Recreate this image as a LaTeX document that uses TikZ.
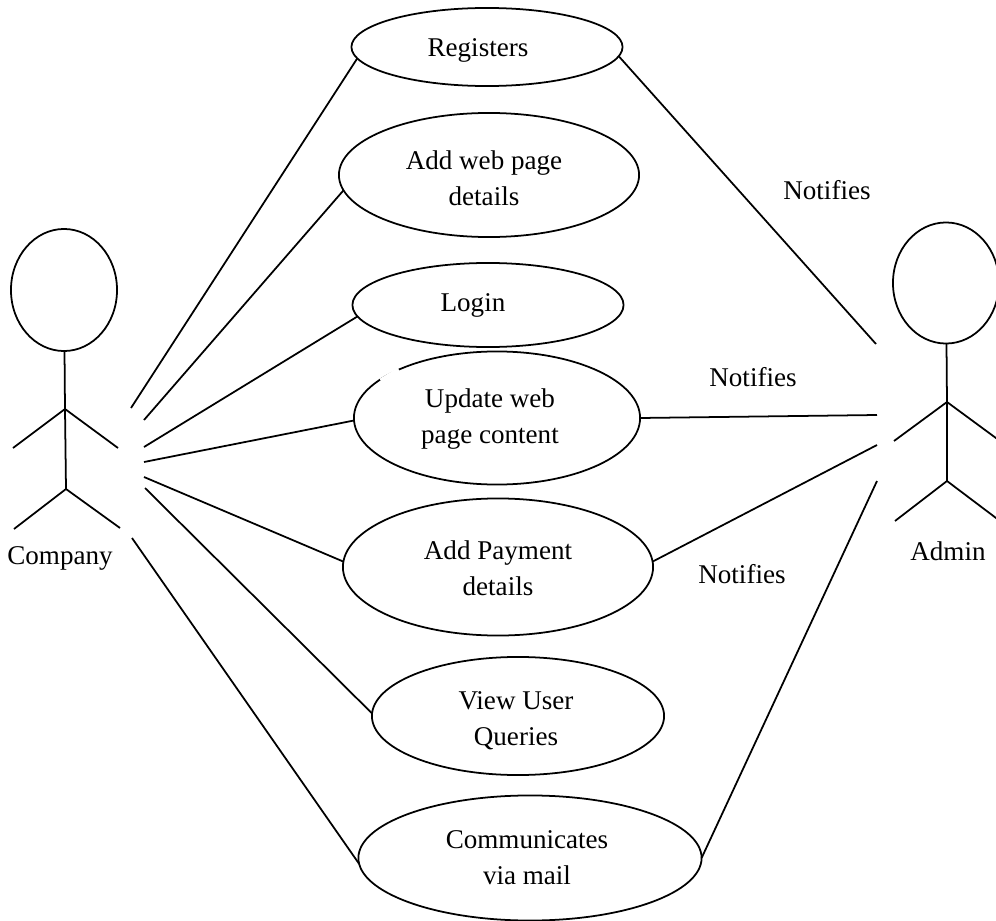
\documentclass[tikz,border=0pt]{standalone}
\usepackage{fontspec}
\setmainfont{Liberation Serif}
\usetikzlibrary{shapes.geometric}

\newcommand{\lift}[1]{\rule{0pt}{#1}}

\tikzset{
    usecase/.style={draw, ellipse, inner sep=0pt, outer sep=0pt, align=center},
    word/.style={inner sep=0pt, align=center},
    wire/.style={line width=0.5pt}
}

\begin{document}
\begin{tikzpicture}[x=0.01cm, y=-0.01cm, wire, font=\fontsize{7.7pt}{10.2pt}\selectfont]
                \useasboundingbox (0,0) rectangle (996,921);

                \node[usecase, minimum width=2.71cm, minimum height=0.78cm] (regs) at (487,47) {\lift{0.24cm}Registers\hspace*{0.18cm}};
                \node[usecase, minimum width=3.00cm, minimum height=1.24cm] (addweb) at (489,175) {\lift{0.245cm}Add web page\hspace*{0.1cm}\\details\hspace*{0.1cm}};
                \node[usecase, minimum width=2.71cm, minimum height=0.84cm] (login) at (488,305) {Login\hspace*{0.3cm}};
                \node[usecase, minimum width=2.86cm, minimum height=1.33cm] (update) at (497,418) {\lift{0.21cm}Update web\hspace*{0.14cm}\\page content\hspace*{0.14cm}};
                \node[usecase, minimum width=3.10cm, minimum height=1.37cm] (pay) at (498,567) {\lift{0.21cm}Add Payment\\details};
                \node[usecase, minimum width=2.92cm, minimum height=1.18cm] (view) at (518,716) {\lift{0.28cm}View User\hspace*{0.04cm}\\Queries\hspace*{0.04cm}};
                \node[usecase, minimum width=3.43cm, minimum height=1.25cm] (comm) at (530,858) {Communicates\hspace*{0.06cm}\\via mail\hspace*{0.06cm}};

                % break in the outline
                \draw[white, line width=1.5pt] (381,381) -- (399,370);

                % company
                \node[draw, ellipse, inner sep=0pt, outer sep=0pt, minimum width=1.06cm, minimum height=1.22cm] (compHead) at (64,290) {};
                \coordinate (compNeck) at (65,409);
                \coordinate (compHip) at (66,489);
                \draw (compHead) -- (compNeck) -- (compHip);
                \draw (13,448) -- (compNeck) -- (118,448);
                \draw (14,529) -- (compHip) -- (120,528);
                \node[word] (compName) at (60,558) {Company};

                % admin
                \node[draw, ellipse, inner sep=0pt, outer sep=0pt, minimum width=1.06cm, minimum height=1.21cm] (admHead) at (946,283) {};
                \coordinate (admNeck) at (947,402);
                \coordinate (admHip) at (947,481);
                \draw (admHead) -- (admNeck) -- (admHip);
                \draw (894,441) -- (admNeck) -- (1000,441);
                \draw (895,521) -- (admHip) -- (1000,521);
                \node[word] (admName) at (948,551) {Admin};

                \coordinate (c1) at (131,408);
                \coordinate (c2) at (144,420);
                \coordinate (c3) at (144,447);
                \coordinate (c4) at (144,462);
                \coordinate (c5) at (144,477);
                \coordinate (c6) at (145,488);
                \coordinate (c7) at (132,538);
                \draw (c1) -- (regs.185);
                \draw (c2) -- (addweb.186.5);
                \draw (c3) -- (login.185.5);
                \draw (c4) -- (update.181);
                \draw (c5) -- (pay.178);
                \draw (c6) -- (view.179);
                \draw (c7) -- (comm.182);

                \coordinate (a1) at (876,344);
                \coordinate (a2) at (877,415);
                \coordinate (a3) at (877,445);
                \coordinate (a4) at (877,481);
                \draw (regs.-4) -- (a1);
                \draw (update.0) -- (a2);
                \draw (pay.2.6) -- (a3);
                \draw (comm.0) -- (a4);

                \node[word] (note1) at (827,190) {Notifies};
                \node[word] (note2) at (753,377) {Notifies};
                \node[word] (note3) at (742,574) {Notifies};
            \end{tikzpicture}
\end{document}
